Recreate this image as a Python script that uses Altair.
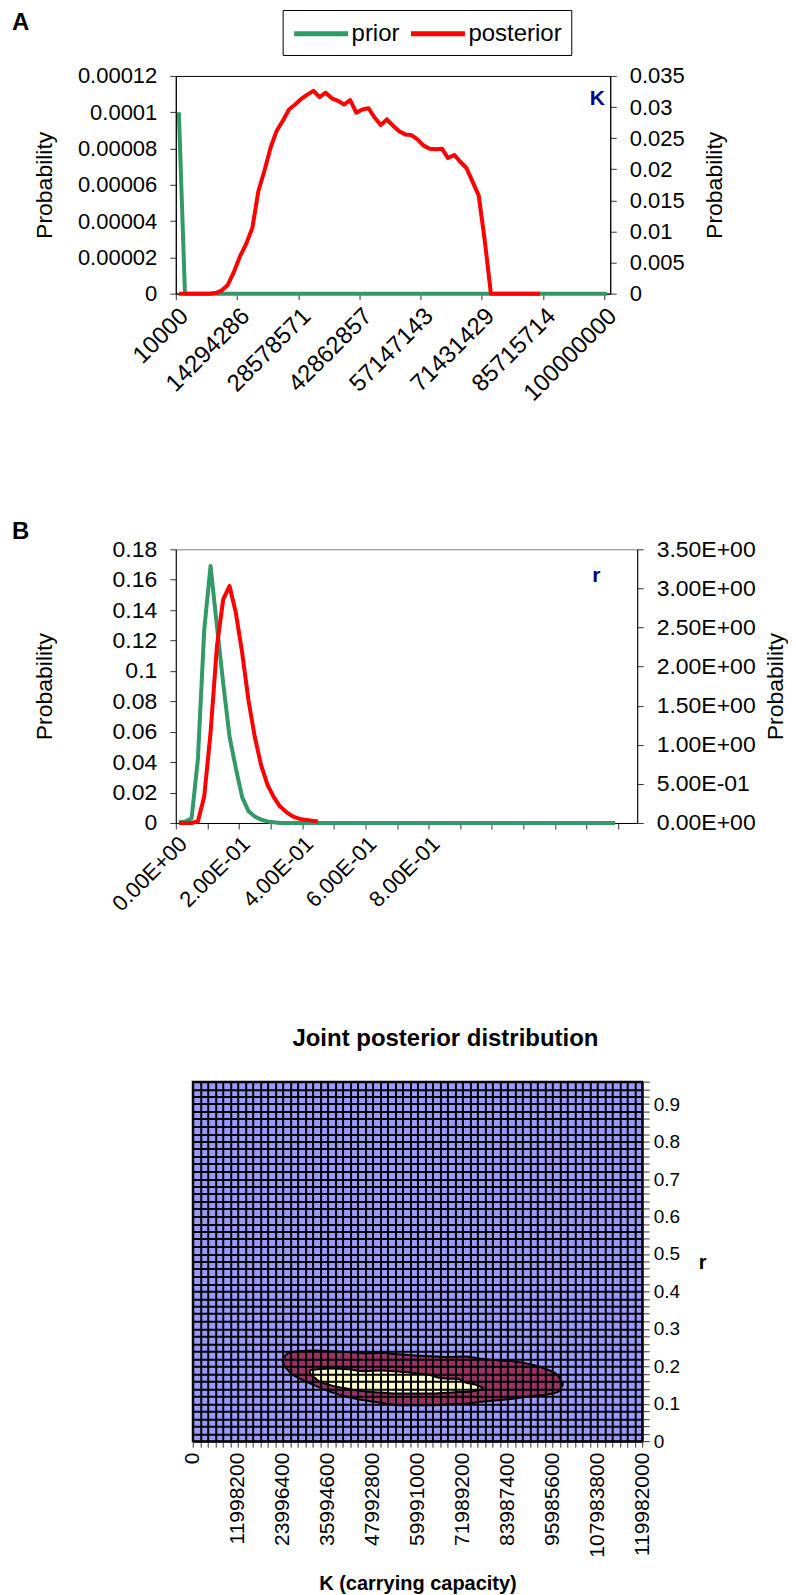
import altair as alt
import pandas as pd

FONT = "Liberation Sans"
GREEN = "#339966"
RED = "#FF0000"
NAVY = "#000080"
LAVENDER = "#9999FF"
MAROON = "#993366"
CREAM = "#FFFFCC"

# ---------------- Panel A : K ----------------
K_LABELS = ["10000", "14294286", "28578571", "42862857", "57147143",
            "71431429", "85715714", "100000000"]
K_PRIOR = [0.0001] + [0.0] * 70
K_POST = [0, 0, 0, 0, 0, 0, 0.0001, 0.0005, 0.0014, 0.0035,
          0.0060, 0.0080, 0.0105, 0.0165, 0.0198, 0.0235, 0.0262, 0.0278, 0.0296, 0.0304,
          0.0313, 0.0320, 0.0326, 0.0316, 0.0323, 0.0314, 0.0310, 0.0304, 0.0311, 0.0291,
          0.0296, 0.0298, 0.0283, 0.0271, 0.0280, 0.0270, 0.0261, 0.0256, 0.0255, 0.0248,
          0.0238, 0.0233, 0.0232, 0.0233, 0.0218, 0.0223, 0.0212, 0.0202, 0.0180, 0.0158,
          0.0085, 0, 0, 0, 0, 0, 0, 0, 0, 0]
A_LEFT_TICKS = [0, 0.00002, 0.00004, 0.00006, 0.00008, 0.0001, 0.00012]
A_RIGHT_TICKS = [0, 0.005, 0.01, 0.015, 0.02, 0.025, 0.03, 0.035]

# ---------------- Panel B : r ----------------
R_LABELS = ["0.00E+00", "2.00E-01", "4.00E-01", "6.00E-01", "8.00E-01"]
R_PRIOR = [0.0005, 0.001, 0.003, 0.042, 0.127, 0.169, 0.130, 0.092, 0.057, 0.036,
           0.017, 0.0078, 0.0042, 0.0022, 0.001, 0.0005] + [0.0] * 54
R_POST = [0, 0, 0, 0.02, 0.34, 1.15, 2.25, 2.86, 3.03, 2.69, 2.18, 1.57, 1.10,
          0.74, 0.49, 0.33, 0.21, 0.14, 0.085, 0.055, 0.04, 0.03, 0.02]
B_LEFT_TICKS = [0, 0.02, 0.04, 0.06, 0.08, 0.1, 0.12, 0.14, 0.16, 0.18]
B_RIGHT_TICKS = [0, 0.5, 1.0, 1.5, 2.0, 2.5, 3.0, 3.5]
B_RIGHT_LABELS = ["0.00E+00", "5.00E-01", "1.00E+00", "1.50E+00", "2.00E+00",
                  "2.50E+00", "3.00E+00", "3.50E+00"]

# ---------------- Panel C : joint posterior ----------------
MAROON_K = [24.0e6, 24.53e6, 25.42e6, 26.31e6, 28.08e6, 32.53e6, 36.97e6, 41.42e6,
            45.86e6, 50.30e6, 54.75e6, 59.19e6, 63.64e6, 68.08e6, 72.52e6, 76.97e6,
            81.41e6, 85.85e6, 90.30e6, 94.74e6, 97.41e6, 98.74e6]
MAROON_LO = [0.212, 0.200, 0.190, 0.180, 0.170, 0.149, 0.131, 0.118, 0.109, 0.102,
             0.096, 0.096, 0.096, 0.098, 0.100, 0.105, 0.109, 0.114, 0.120, 0.125,
             0.131, 0.149]
MAROON_HI = [0.214, 0.226, 0.235, 0.238, 0.240, 0.242, 0.240, 0.238, 0.235, 0.236,
             0.232, 0.229, 0.227, 0.225, 0.226, 0.220, 0.216, 0.213, 0.205, 0.191,
             0.176, 0.154]
CREAM_K = [31.20e6, 31.64e6, 32.53e6, 33.42e6, 36.97e6, 41.42e6, 45.86e6, 50.30e6,
           54.75e6, 59.19e6, 63.64e6, 65.41e6, 68.08e6, 70.74e6, 72.52e6, 76.08e6, 77.41e6]
CREAM_LO = [0.184, 0.176, 0.170, 0.162, 0.149, 0.140, 0.133, 0.130, 0.127, 0.127,
            0.127, 0.128, 0.129, 0.131, 0.131, 0.136, 0.140]
CREAM_HI = [0.186, 0.190, 0.191, 0.192, 0.194, 0.192, 0.187, 0.189, 0.186, 0.182,
            0.176, 0.170, 0.167, 0.167, 0.158, 0.149, 0.143]
C_K_MAX = 119982000
C_K_STEP = 1999700
C_K_LABEL_STEP = 11998200
C_R_MAX = 0.96
C_R_STEP = 0.02

# ================= build data frames =================
dfA = pd.DataFrame(
    [{"cat": i, "value": v, "series": "prior"} for i, v in enumerate(K_PRIOR)]
    + [{"cat": i, "value": v, "series": "posterior"} for i, v in enumerate(K_POST)]
)
dfB = pd.DataFrame(
    [{"cat": i, "value": v, "series": "prior"} for i, v in enumerate(R_PRIOR)]
    + [{"cat": i, "value": v, "series": "posterior"} for i, v in enumerate(R_POST)]
)
dfM = pd.DataFrame({"K": MAROON_K, "lo": MAROON_LO, "hi": MAROON_HI})
dfY = pd.DataFrame({"K": CREAM_K, "lo": CREAM_LO, "hi": CREAM_HI})

color_scale = alt.Scale(domain=["prior", "posterior"], range=[GREEN, RED])

AXIS_COMMON = dict(labelFont=FONT, titleFont=FONT, labelColor="black", titleColor="black",
                   domainColor="black", tickColor="#333333", grid=False)

# ================= Panel A =================
A_W, A_H = 435, 218
a_xvals = [-0.5 + 10 * j for j in range(len(K_LABELS))]
a_label_arr = "[" + ",".join("'" + s + "'" for s in K_LABELS) + "]"
a_x = alt.X("cat:Q", scale=alt.Scale(domain=[-0.5, 70.5], nice=False, zero=False),
            axis=alt.Axis(values=a_xvals, labelExpr=a_label_arr + "[round((datum.value + 0.5) / 10)]",
                          labelAngle=-45, labelFontSize=24, tickSize=6, labelPadding=4,
                          labelOverlap=False, labelBound=False, labelFlush=False,
                          title=" ", titleFontSize=8, titlePadding=0, **AXIS_COMMON))

a_prior = alt.Chart(dfA).transform_filter(alt.datum.series == "prior").mark_line(
    strokeWidth=4, strokeJoin="round").encode(
    x=a_x,
    y=alt.Y("value:Q", scale=alt.Scale(domain=[0, 0.00012], nice=False),
            axis=alt.Axis(orient="left", values=A_LEFT_TICKS, format=".5~f", labelFontSize=22,
                          tickSize=6, labelPadding=13, title="Probability", titleFontSize=23,
                          titleFontWeight="normal", titleAngle=270, titleX=-131,
                          titleBaseline="middle", titleAlign="center", **AXIS_COMMON)),
    color=alt.Color("series:N", scale=color_scale,
                    legend=alt.Legend(title=None, orient="none", legendX=107, legendY=-66,
                                      direction="horizontal",
                                      symbolType="M-1,0L3.5,0", symbolSize=576,
                                      symbolStrokeWidth=5, symbolFillColor="transparent",
                                      labelFontSize=24, labelFont=FONT, labelColor="black",
                                      labelOffset=31, columnPadding=0, padding=9,
                                      strokeColor="black", fillColor="white")),
)
a_post = alt.Chart(dfA).transform_filter(alt.datum.series == "posterior").mark_line(
    strokeWidth=4, strokeJoin="round").encode(
    x=a_x,
    y=alt.Y("value:Q", scale=alt.Scale(domain=[0, 0.035], nice=False),
            axis=alt.Axis(orient="right", values=A_RIGHT_TICKS, format=".3~f", labelFontSize=22,
                          tickSize=6, labelPadding=13, title="Probability", titleFontSize=23,
                          titleFontWeight="normal", titleAngle=270, titleX=104,
                          titleBaseline="middle", titleAlign="center", **AXIS_COMMON)),
    color=alt.Color("series:N", scale=color_scale),
)
a_letter = alt.Chart(pd.DataFrame({"t": ["A"]})).mark_text(
    font=FONT, fontSize=24, fontWeight="bold", align="left", baseline="middle", color="black"
).encode(text="t:N", x=alt.value(-164), y=alt.value(-53))
a_k = alt.Chart(pd.DataFrame({"t": ["K"]})).mark_text(
    font=FONT, fontSize=21, fontWeight="bold", align="center", baseline="middle", color=NAVY
).encode(text="t:N", x=alt.value(422), y=alt.value(23))

chartA = alt.layer(a_prior, a_post, a_letter, a_k).resolve_scale(y="independent").properties(
    width=A_W, height=A_H, view=alt.ViewBackground(stroke="black", strokeWidth=1))

# ================= Panel B =================
B_W, B_H = 462, 274
b_xvals = [-0.5 + 5 * j for j in range(15)]
b_label_arr = "[" + ",".join("'" + s + "'" for s in R_LABELS) + "]"
b_expr = ("(round((datum.value + 0.5) / 5) % 2 == 0 && round((datum.value + 0.5) / 10) < "
          + str(len(R_LABELS)) + ") ? " + b_label_arr + "[round((datum.value + 0.5) / 10)] : ''")
b_x = alt.X("cat:Q", scale=alt.Scale(domain=[-0.5, 72.5], nice=False, zero=False),
            axis=alt.Axis(values=b_xvals, labelExpr=b_expr, labelAngle=-45, labelFontSize=22,
                          labelOverlap=False, labelBound=False, labelFlush=False,
                          tickSize=6, labelPadding=4, title=" ", titleFontSize=5,
                          titlePadding=0, **AXIS_COMMON))
b_right_arr = "[" + ",".join("'" + s + "'" for s in B_RIGHT_LABELS) + "]"

b_prior = alt.Chart(dfB).transform_filter(alt.datum.series == "prior").mark_line(
    strokeWidth=4, strokeJoin="round").encode(
    x=b_x,
    y=alt.Y("value:Q", scale=alt.Scale(domain=[0, 0.18], nice=False),
            axis=alt.Axis(orient="left", values=B_LEFT_TICKS, format=".2~f", labelFontSize=23,
                          tickSize=6, labelPadding=13, title="Probability", titleFontSize=23,
                          titleFontWeight="normal", titleAngle=270, titleX=-131,
                          titleBaseline="middle", titleAlign="center", **AXIS_COMMON)),
    color=alt.Color("series:N", scale=color_scale, legend=None),
)
b_post = alt.Chart(dfB).transform_filter(alt.datum.series == "posterior").mark_line(
    strokeWidth=4, strokeJoin="round").encode(
    x=b_x,
    y=alt.Y("value:Q", scale=alt.Scale(domain=[0, 3.5], nice=False),
            axis=alt.Axis(orient="right", values=B_RIGHT_TICKS,
                          labelExpr=b_right_arr + "[round(datum.value * 2)]", labelFontSize=23,
                          tickSize=6, labelPadding=13, title="Probability", titleFontSize=23,
                          titleFontWeight="normal", titleAngle=270, titleX=138,
                          titleBaseline="middle", titleAlign="center", **AXIS_COMMON)),
    color=alt.Color("series:N", scale=color_scale, legend=None),
)
b_letter = alt.Chart(pd.DataFrame({"t": ["B"]})).mark_text(
    font=FONT, fontSize=24, fontWeight="bold", align="left", baseline="middle", color="black"
).encode(text="t:N", x=alt.value(-164), y=alt.value(-17))
b_r = alt.Chart(pd.DataFrame({"t": ["r"]})).mark_text(
    font=FONT, fontSize=21, fontWeight="bold", align="center", baseline="middle", color=NAVY
).encode(text="t:N", x=alt.value(421), y=alt.value(27))

chartB = alt.layer(b_prior, b_post, b_letter, b_r).resolve_scale(y="independent").properties(
    width=B_W, height=B_H, view=alt.ViewBackground(stroke="#808080", strokeWidth=1))

# ================= Panel C =================
C_W, C_H = 450, 360
c_kgrid = [i * C_K_STEP for i in range(int(round(C_K_MAX / C_K_STEP)) + 1)]
c_rgrid = [round(i * C_R_STEP, 2) for i in range(int(round(C_R_MAX / C_R_STEP)) + 1)]

c_x = alt.X("K:Q", scale=alt.Scale(domain=[0, C_K_MAX], nice=False, zero=False),
            axis=alt.Axis(values=c_kgrid,
                          labelExpr="datum.value % " + str(C_K_LABEL_STEP) + " === 0 ? format(datum.value, 'd') : ''",
                          labelAngle=-90, labelFontSize=21, tickSize=6, labelPadding=5,
                          labelOverlap=False, labelBound=False, labelFlush=False,
                          title="K (carrying capacity)", titleFontSize=20, titleFontWeight="bold",
                          titlePadding=16, grid=True, gridColor="black", gridWidth=2,
                          gridOpacity=1, zindex=1, labelFont=FONT, titleFont=FONT,
                          labelColor="black", titleColor="black", domainColor="black",
                          tickColor="#333333"))
c_y = alt.Y("lo:Q", scale=alt.Scale(domain=[0, C_R_MAX], nice=False),
            axis=alt.Axis(orient="right", values=c_rgrid,
                          labelExpr="round(datum.value * 50) % 5 === 0 ? format(datum.value, '.1~f') : ''",
                          labelFontSize=19, tickSize=7, labelPadding=4,
                          labelOverlap=False, labelBound=False, labelFlush=False,
                          title="r", titleFontSize=20, titleFontWeight="bold", titleAngle=0,
                          titleX=60, titleY=181, titleAlign="center", titleBaseline="middle",
                          grid=True, gridColor="black", gridWidth=2, gridOpacity=1, zindex=1,
                          labelFont=FONT, titleFont=FONT, labelColor="black", titleColor="black",
                          domainColor="black", tickColor="#333333"))

c_maroon = alt.Chart(dfM).mark_area(color=MAROON, stroke="black", strokeWidth=2,
                                    interpolate="monotone", opacity=1).encode(
    x=c_x, y=c_y, y2="hi:Q")
c_cream = alt.Chart(dfY).mark_area(color=CREAM, stroke="black", strokeWidth=2,
                                   interpolate="monotone", opacity=1).encode(
    x=c_x, y=c_y, y2="hi:Q")

chartC = alt.layer(c_maroon, c_cream).properties(
    width=C_W, height=C_H,
    view=alt.ViewBackground(fill=LAVENDER, stroke="black", strokeWidth=2),
    title=alt.TitleParams("Joint posterior distribution", font=FONT, fontSize=24,
                          fontWeight="bold", anchor="middle", dx=28, offset=22, color="black"))

spacer = alt.Chart(pd.DataFrame({"s": [0]})).mark_point(opacity=0).properties(
    width=4, height=10, view=alt.ViewBackground(strokeOpacity=0))
rowC = alt.hconcat(spacer, chartC, spacing=0)

chart = alt.vconcat(chartA, chartB, rowC, spacing=105).configure(
    padding={"left": 3, "top": 0, "right": 0, "bottom": 0}, font=FONT)

chart.save("out.html", embed_options={"renderer": "svg", "actions": False})
